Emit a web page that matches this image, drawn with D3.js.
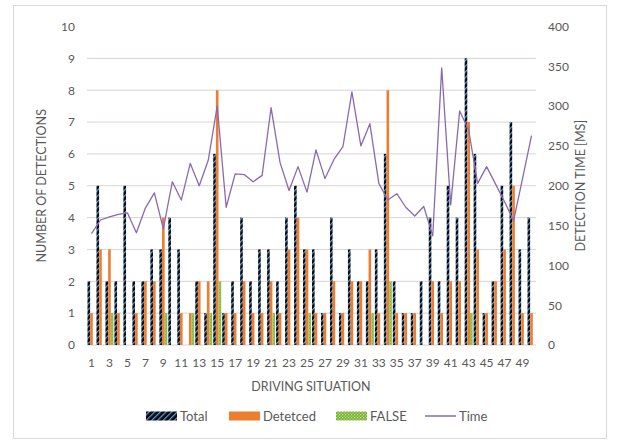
<!DOCTYPE html>
<html lang="en">
<head>
<meta charset="UTF-8">
<script src="https://d3js.org/d3.v7.min.js"></script>
<style>
  body, html { margin: 0; width: 100%; height: 100%; overflow: hidden; background: #fff; font-family: Lato, "Open Sans", sans-serif; }
  .tick text { fill: #595959; font-size: 12px; font-family: Lato, sans-serif; }
  .title { fill: #595959; font-size: 12.5px; }
  .legend text { fill: #595959; font-size: 13px; }
</style>
</head>
<body>
<div id="chart"></div>
<script>
// driving situations 1..50
const situations = [1,2,3,4,5,6,7,8,9,10,11,12,13,14,15,16,17,18,19,20,21,22,23,24,25,
                    26,27,28,29,30,31,32,33,34,35,36,37,38,39,40,41,42,43,44,45,46,47,48,49,50];
const total    = [2,5,2,2,5,2,2,3,3,4, 3,0,2,1,6,1,2,4,2,3, 3,2,4,5,3,3,1,4,1,3, 2,2,3,6,2,1,1,2,4,2, 5,4,9,6,1,2,5,7,3,4];
const detected = [1,3,3,1,0,1,2,2,4,0, 1,1,2,2,8,1,1,2,1,1, 2,1,3,4,3,1,1,2,1,2, 2,3,1,8,1,1,1,0,2,1, 2,2,7,3,1,2,3,5,1,1];
const falseDet = [0,0,1,0,0,0,0,0,1,0, 0,1,0,1,2,0,0,0,0,0, 1,0,0,0,1,0,0,0,0,0, 0,1,0,2,0,0,0,0,0,0, 0,0,1,0,0,0,0,0,0,0];
const timeMs   = [140,157,161,164,166,141,172,191,146,205, 182,228,200,232,300,173,215,214,205,213,
                  298,229,194,224,192,245,209,233,249,318, 250,278,203,182,190,173,162,174,137,348,
                  176,294,270,203,224,202,180,156,209,263];
const leftTicks  = [0,1,2,3,4,5,6,7,8,9,10];
const rightTicks = [0,50,100,150,200,250,300,350,400];
const xTickLabels = [1,3,5,7,9,11,13,15,17,19,21,23,25,27,29,31,33,35,37,39,41,43,45,47,49];

const seriesNames = ["Total", "Detetced", "FALSE"];
const seriesData = [total, detected, falseDet];

const W = 618, H = 443;
const margin = {top: 26.5, right: 82, bottom: 98, left: 87};
const width = W - margin.left - margin.right;
const height = H - margin.top - margin.bottom;

const root = d3.select("#chart").append("svg")
    .attr("width", W).attr("height", H);

// patterns
const defs = root.append("defs");
const hatch = defs.append("pattern")
    .attr("id", "hatchTotal")
    .attr("patternUnits", "userSpaceOnUse")
    .attr("width", 4).attr("height", 4)
    .attr("patternTransform", "rotate(45)");
hatch.append("rect").attr("width", 4).attr("height", 4).attr("fill", "#050508");
hatch.append("rect").attr("width", 1.3).attr("height", 4).attr("fill", "#5b9bd5");

const dots = defs.append("pattern")
    .attr("id", "dotsFalse")
    .attr("patternUnits", "userSpaceOnUse")
    .attr("width", 3).attr("height", 3);
dots.append("rect").attr("width", 3).attr("height", 3).attr("fill", "#70ad47");
dots.append("rect").attr("x", 0).attr("y", 0).attr("width", 1.2).attr("height", 1.2).attr("fill", "#d4e86a");
dots.append("rect").attr("x", 1.5).attr("y", 1.5).attr("width", 1.2).attr("height", 1.2).attr("fill", "#d4e86a");

const fills = ["url(#hatchTotal)", "#ed7d31", "url(#dotsFalse)"];

// chart border
root.append("rect")
    .attr("x", 13.5).attr("y", 5.5)
    .attr("width", 593).attr("height", 433)
    .attr("fill", "none").attr("stroke", "#d9d9d9");

const svg = root.append("g").attr("transform", `translate(${margin.left},${margin.top})`);

const x = d3.scaleBand().domain(situations).range([0, width]).paddingInner(0.1).paddingOuter(0.05);
const xs = d3.scaleBand().domain(seriesNames).range([0, x.bandwidth()]).padding(0.02);
const y = d3.scaleLinear().domain([0, 10]).range([height, 0]);
const y2 = d3.scaleLinear().domain([0, 400]).range([height, 0]);

// gridlines (no line at the top value)
svg.append("g").selectAll("line")
    .data(leftTicks.filter(d => d < 10))
    .join("line")
    .attr("x1", 0).attr("x2", width)
    .attr("y1", d => y(d)).attr("y2", d => y(d))
    .attr("stroke", "#dcd2d2").attr("stroke-width", 1);

// axes
const yAxis = svg.append("g")
    .call(d3.axisLeft(y).tickValues(leftTicks).tickSize(0).tickPadding(12));
yAxis.select(".domain").remove();

const yAxis2 = svg.append("g")
    .attr("transform", `translate(${width},0)`)
    .call(d3.axisRight(y2).tickValues(rightTicks).tickSize(0).tickPadding(12));
yAxis2.select(".domain").remove();

const xAxis = svg.append("g")
    .attr("transform", `translate(0,${height})`)
    .call(d3.axisBottom(x).tickValues(xTickLabels).tickSize(0).tickPadding(13));
xAxis.select(".domain").remove();

// bars
const groups = svg.append("g").selectAll("g")
    .data(situations)
    .join("g")
    .attr("transform", d => `translate(${x(d)},0)`);

groups.selectAll("rect")
    .data((d, i) => seriesNames.map((s, k) => ({s, k, v: seriesData[k][i]})))
    .join("rect")
    .attr("x", d => xs(d.s))
    .attr("width", xs.bandwidth())
    .attr("y", d => y(d.v))
    .attr("height", d => height - y(d.v))
    .attr("fill", d => fills[d.k]);

// time line
const line = d3.line()
    .x((d, i) => x(situations[i]) + x.bandwidth() / 2)
    .y(d => y2(d));
svg.append("path")
    .datum(timeMs)
    .attr("d", line)
    .attr("fill", "none")
    .attr("stroke", "#8a6aae")
    .attr("stroke-width", 1.3)
    .attr("stroke-linejoin", "round");

// axis titles
root.append("text").attr("class", "title")
    .attr("transform", `translate(46,${margin.top + height / 2}) rotate(-90)`)
    .attr("text-anchor", "middle")
    .text("NUMBER OF DETECTIONS");

root.append("text").attr("class", "title")
    .attr("transform", `translate(585,${margin.top + height / 2}) rotate(-90)`)
    .attr("text-anchor", "middle")
    .text("DETECTION TIME [MS]");

root.append("text").attr("class", "title")
    .attr("x", 311).attr("y", 391)
    .attr("text-anchor", "middle")
    .text("DRIVING SITUATION");

// legend
const legend = root.append("g").attr("class", "legend");
const legendItems = [
  {name: "Total", x: 146, type: "rect", fill: fills[0]},
  {name: "Detetced", x: 229, type: "rect", fill: fills[1]},
  {name: "FALSE", x: 336, type: "rect", fill: fills[2]},
  {name: "Time", x: 425, type: "line", fill: "#8a6aae"}
];
const ly = 416;
legendItems.forEach(it => {
  if (it.type === "rect") {
    legend.append("rect").attr("x", it.x).attr("y", ly - 4.5)
      .attr("width", 31).attr("height", 9).attr("fill", it.fill);
  } else {
    legend.append("line").attr("x1", it.x).attr("x2", it.x + 31)
      .attr("y1", ly).attr("y2", ly)
      .attr("stroke", it.fill).attr("stroke-width", 1.5);
  }
  legend.append("text").attr("x", it.x + 34).attr("y", ly + 4.5).text(it.name);
});
</script>
</body>
</html>
